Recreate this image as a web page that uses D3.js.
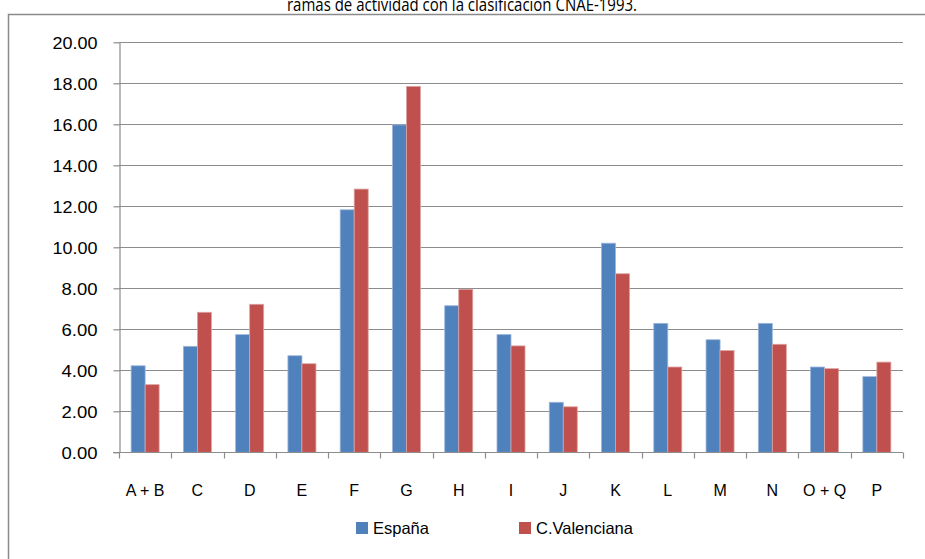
<!DOCTYPE html>
<html>
<head>
<meta charset="utf-8">
<script src="https://cdn.jsdelivr.net/npm/d3@7"></script>
<style>
  body { margin: 0; background: #fff; }
  svg { display: block; }
  text { font-family: "Liberation Sans", Arial, sans-serif; fill: #000; }
</style>
</head>
<body>
<div id="chart"></div>
<script>
// ramas de actividad CNAE-1993: España vs C.Valenciana

var categories = ["A + B", "C", "D", "E", "F", "G", "H", "I", "J", "K", "L", "M", "N", "O + Q", "P"];
var espana     = [4.22, 5.17, 5.74, 4.71, 11.83, 15.97, 7.15, 5.74, 2.44, 10.20, 6.29, 5.49, 6.29, 4.16, 3.69];
var valenciana = [3.30, 6.83, 7.22, 4.32, 12.84, 17.85, 7.95, 5.19, 2.22, 8.71, 4.16, 4.96, 5.27, 4.08, 4.40];
var seriesNames = ["España", "C.Valenciana"];
var yTicks = [0, 2, 4, 6, 8, 10, 12, 14, 16, 18, 20];

var width = 925,
    height = 559;

var plot = { left: 119, right: 903, top: 42.3, bottom: 452.3 };

var colors = { "España": "#4F81BD", "C.Valenciana": "#C0504D" };
var edges  = { "España": "#9DB6DA", "C.Valenciana": "#DDA3A2" };

var svg = d3.select("#chart").append("svg")
    .attr("width", width)
    .attr("height", height);

// outer chart frame (right/bottom edges fall outside the window)
svg.append("rect")
    .attr("x", 8.5)
    .attr("y", 14.5)
    .attr("width", 940)
    .attr("height", 600)
    .attr("fill", "none")
    .attr("stroke", "#8a8a8a")
    .attr("stroke-width", 1.5);

// title, top part cut off by the window like in the source
svg.append("text")
    .attr("x", 462)
    .attr("y", 10.5)
    .attr("text-anchor", "middle")
    .attr("textLength", 350)
    .attr("lengthAdjust", "spacingAndGlyphs")
    .style("font-family", "'Open Sans', sans-serif")
    .style("font-size", "19px")
    .text("ramas de actividad con la clasificación CNAE-1993.");

var xScale = d3.scaleBand()
    .domain(categories)
    .range([plot.left, plot.right])
    .padding(0);

var barW = xScale.bandwidth() * 0.268;

var xInner = d3.scaleBand()
    .domain(seriesNames)
    .range([0, barW * 2]);

var yScale = d3.scaleLinear()
    .domain([0, 20])
    .range([plot.bottom, plot.top]);

// gridlines
svg.append("g")
    .selectAll("line")
    .data(yTicks.filter(function(d) { return d > 0; }))
    .enter()
    .append("line")
    .attr("x1", plot.left)
    .attr("x2", plot.right)
    .attr("y1", function(d) { return Math.round(yScale(d)) + 0.5; })
    .attr("y2", function(d) { return Math.round(yScale(d)) + 0.5; })
    .attr("stroke", "#8c8c8c")
    .attr("stroke-width", 1.2);

// bars
var rows = categories.map(function(c, i) {
  return { cat: c, values: [
    { key: "España", value: espana[i] },
    { key: "C.Valenciana", value: valenciana[i] }
  ]};
});

var groups = svg.append("g")
    .selectAll("g")
    .data(rows)
    .enter()
    .append("g")
    .attr("transform", function(d) {
      return "translate(" + (xScale(d.cat) + (xScale.bandwidth() - barW * 2) / 2) + ",0)";
    });

groups.selectAll("rect")
    .data(function(d) { return d.values; })
    .enter()
    .append("rect")
    .attr("x", function(d) { return xInner(d.key); })
    .attr("width", xInner.bandwidth())
    .attr("y", function(d) { return yScale(d.value); })
    .attr("height", function(d) { return yScale(0) - yScale(d.value); })
    .attr("fill", function(d) { return colors[d.key]; })
    .attr("stroke", function(d) { return edges[d.key]; })
    .attr("stroke-width", 0.8);

// y axis
var yaxis = d3.axisLeft(yScale)
    .tickValues(yTicks)
    .tickSize(6)
    .tickSizeOuter(0)
    .tickPadding(16)
    .tickFormat(d3.format(".2f"));

var gy = svg.append("g")
    .attr("transform", "translate(" + (plot.left + 0.5) + ",0)")
    .call(yaxis);

gy.selectAll("line, path").attr("stroke", "#8c8c8c").attr("stroke-width", 1.2);
gy.selectAll("text")
    .style("font-size", "17px")
    .attr("textLength", function(d) { return d >= 10 ? 45 : 36; })
    .attr("lengthAdjust", "spacingAndGlyphs")
    .attr("dy", "0.35em");

// x axis: ticks on category boundaries
var gx = svg.append("g")
    .attr("transform", "translate(0," + (Math.round(plot.bottom) + 0.5) + ")");

gx.append("line")
    .attr("x1", plot.left - 6)
    .attr("x2", plot.right)
    .attr("stroke", "#8c8c8c")
    .attr("stroke-width", 1.2);

var bounds = categories.map(function(c) { return xScale(c); }).concat([plot.right]);

gx.selectAll(".tick")
    .data(bounds)
    .enter()
    .append("line")
    .attr("class", "tick")
    .attr("x1", function(d) { return Math.round(d) + 0.5; })
    .attr("x2", function(d) { return Math.round(d) + 0.5; })
    .attr("y1", 0)
    .attr("y2", 6)
    .attr("stroke", "#8c8c8c")
    .attr("stroke-width", 1.2);

gx.selectAll(".cat")
    .data(categories)
    .enter()
    .append("text")
    .attr("class", "cat")
    .attr("x", function(d) { return xScale(d) + xScale.bandwidth() / 2; })
    .attr("y", 43.5)
    .attr("text-anchor", "middle")
    .style("font-size", "16px")
    .text(function(d) { return d; });

// legend
var legendX = [356, 519];

var legend = svg.append("g")
    .selectAll("g")
    .data(seriesNames)
    .enter()
    .append("g")
    .attr("transform", function(d, i) { return "translate(" + legendX[i] + ",522)"; });

legend.append("rect")
    .attr("width", 12)
    .attr("height", 12)
    .attr("fill", function(d) { return colors[d]; });

legend.append("text")
    .attr("x", 17)
    .attr("y", 11.5)
    .style("font-size", "16.5px")
    .text(function(d) { return d; });
</script>
</body>
</html>
